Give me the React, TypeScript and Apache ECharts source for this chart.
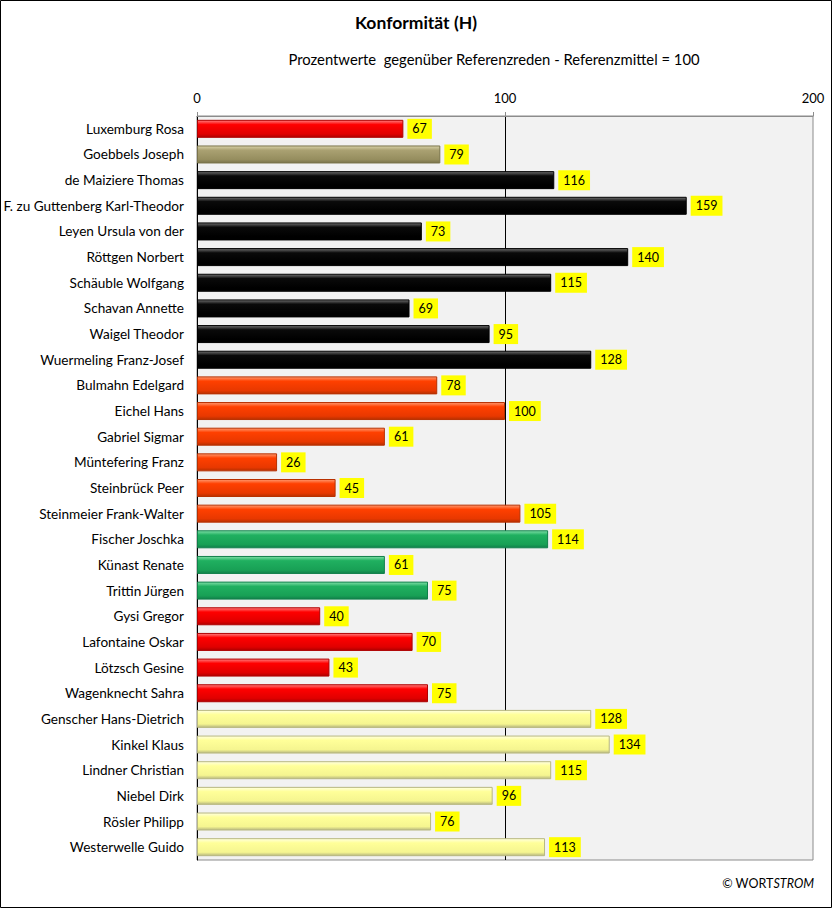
import React, { useEffect, useRef } from "react";
import * as echarts from "echarts";

const names = [
  "Luxemburg Rosa", "Goebbels Joseph", "de Maiziere Thomas", "F. zu Guttenberg Karl-Theodor",
  "Leyen Ursula von der", "Röttgen Norbert", "Schäuble Wolfgang", "Schavan Annette",
  "Waigel Theodor", "Wuermeling Franz-Josef", "Bulmahn Edelgard", "Eichel Hans",
  "Gabriel Sigmar", "Müntefering Franz", "Steinbrück Peer", "Steinmeier Frank-Walter",
  "Fischer Joschka", "Künast Renate", "Trittin Jürgen", "Gysi Gregor", "Lafontaine Oskar",
  "Lötzsch Gesine", "Wagenknecht Sahra", "Genscher Hans-Dietrich", "Kinkel Klaus",
  "Lindner Christian", "Niebel Dirk", "Rösler Philipp", "Westerwelle Guido",
];
const values = [67, 79, 116, 159, 73, 140, 115, 69, 95, 128, 78, 100, 61, 26, 45, 105, 114, 61, 75, 40, 70, 43, 75, 128, 134, 115, 96, 76, 113];
const groups = [
  "red", "brown", "black", "black", "black", "black", "black", "black", "black", "black",
  "spd", "spd", "spd", "spd", "spd", "spd", "green", "green", "green",
  "red", "red", "red", "red", "yellow", "yellow", "yellow", "yellow", "yellow", "yellow",
];
const xTicks = [0, 100, 200];

const palette: Record<string, [string, string, string, string]> = {
  red: ["#ff8080", "#ff0000", "#e00000", "#b00000"],
  brown: ["#d8d3a8", "#aaa172", "#958d5e", "#7a734a"],
  black: ["#707070", "#0a0a0a", "#000000", "#000000"],
  spd: ["#ff9a70", "#ff4000", "#e83800", "#b83000"],
  green: ["#80e0a8", "#20b060", "#18a055", "#10804a"],
  yellow: ["#ffffe0", "#ffff99", "#f5f590", "#b8b880"],
};

export default function App() {
  const ref = useRef<HTMLDivElement>(null);
  useEffect(() => {
    document.body.style.margin = "0";
    const chart = echarts.init(ref.current!, null, { renderer: "svg" });
    const font = "Lato, 'Liberation Sans', sans-serif";
    const data = values.map((v, i) => {
      const c = palette[groups[i]];
      return {
        value: v,
        itemStyle: {
          color: new echarts.graphic.LinearGradient(0, 0, 0, 1, [
            { offset: 0, color: c[0] },
            { offset: 0.25, color: c[1] },
            { offset: 0.8, color: c[2] },
            { offset: 1, color: c[3] },
          ]),
          borderColor: c[3],
          borderWidth: 1,
        },
      };
    });
    chart.setOption({
      animation: false,
      backgroundColor: "#ffffff",
      textStyle: { fontFamily: font },
      title: [
        {
          text: "Konformität (H)",
          left: 416,
          top: 13,
          padding: 0,
          textAlign: "center",
          textStyle: { fontSize: 17.5, fontWeight: "bold", color: "#000", fontFamily: font },
        },
        {
          text: "Prozentwerte  gegenüber Referenzreden - Referenzmittel = 100",
          left: 494,
          top: 51,
          padding: 0,
          textAlign: "center",
          textStyle: { fontSize: 14.8, fontWeight: "normal", color: "#000", fontFamily: font },
        },
      ],
      graphic: [
        {
          type: "rect",
          shape: { x: 0.5, y: 0.5, width: 831, height: 907 },
          style: { fill: "none", stroke: "#000", lineWidth: 1 },
          silent: true,
        },
        {
          type: "text",
          right: 18,
          top: 877,
          style: {
            text: "© WORT{i|STROM}",
            rich: { i: { fontStyle: "italic", fontSize: 12.5, fontFamily: font, fill: "#000" } },
            fontSize: 12.5,
            fontFamily: font,
            fill: "#000",
          },
        },
      ],
      grid: {
        left: 197,
        right: 19,
        top: 116,
        bottom: 48,
        show: true,
        backgroundColor: "#f2f2f2",
        borderColor: "#8c8c8c",
        borderWidth: 1,
      },
      xAxis: {
        type: "value",
        position: "top",
        min: xTicks[0],
        max: xTicks[xTicks.length - 1],
        interval: 100,
        axisLine: { show: true, lineStyle: { color: "#8c8c8c" } },
        axisTick: { show: true, length: 4, lineStyle: { color: "#8c8c8c" } },
        axisLabel: { color: "#000", fontSize: 13, margin: 12, fontFamily: font },
        splitLine: {
          show: true,
          lineStyle: { color: ["rgba(0,0,0,0)", "#000000", "rgba(0,0,0,0)"], width: 1 },
        },
      },
      yAxis: {
        type: "category",
        data: names,
        inverse: true,
        axisLine: { show: true, lineStyle: { color: "#000" } },
        axisTick: { show: false },
        axisLabel: { color: "#000", fontSize: 13.6, margin: 13, fontFamily: font },
      },
      series: [
        {
          type: "bar",
          data,
          barWidth: 18,
          label: {
            show: true,
            position: "right",
            distance: 4,
            color: "#000",
            fontSize: 12.5,
            fontFamily: font,
            backgroundColor: "#ffff00",
            padding: [4, 5, 3, 5],
          },
        },
      ],
    });
    return () => chart.dispose();
  }, []);
  return <div ref={ref} style={{ width: 832, height: 908 }} />;
}
